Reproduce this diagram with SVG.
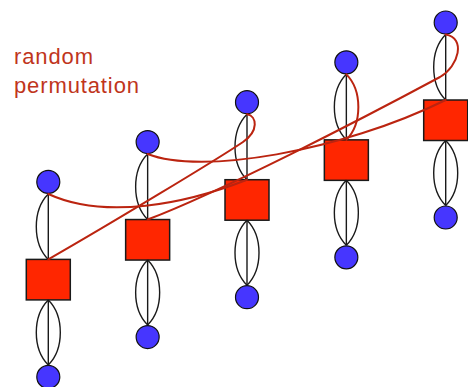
<svg xmlns="http://www.w3.org/2000/svg" width="468" height="387" viewBox="0 0 468 387">
  <style>
    .site { fill: #4636ff; stroke: #111; stroke-width: 1.2; }
    .box { fill: #ff2600; stroke: #1a1a1a; stroke-width: 1.5; }
    .bond { fill: none; stroke: #1a1a1a; stroke-width: 1.4; }
    .perm { fill: none; stroke: #bb2410; stroke-width: 2; stroke-linecap: round; }
    .label { font-family: "Liberation Sans", Arial, sans-serif; font-size: 22px; fill: #c0351c; }
  </style>
  <defs>
    <!-- local column frame: upper site at (0,0), box top at 77.5, lower site at 195 -->
    <path id="lensTopLeft" d="M0,12 C-16,28 -16,61.5 0,77.5"/>
    <path id="lensBotLeft" d="M0,118 C-16,134 -16,167 0,183"/>
    <path id="lensBotRight" d="M0,118 C16,134 16,167 0,183"/>
    <path id="stems" d="M0,12 V77.5 M0,118 V183"/>
  </defs>

  <text class="label" x="14" y="64" textLength="79" lengthAdjust="spacing">random</text>
  <text class="label" x="14" y="93" textLength="125" lengthAdjust="spacing">permutation</text>

  <!-- nodes -->
  <g id="col1" transform="translate(48.3,181.9)">
    <g id="top1"><circle class="site" cx="0" cy="0" r="11.5"/></g>
    <g id="box1"><rect class="box" x="-22" y="77.5" width="44" height="40.5"/></g>
    <g id="bot1"><circle class="site" cx="0" cy="195" r="11.5"/></g>
  </g>
  <g id="col2" transform="translate(147.65,142.05)">
    <g id="top2"><circle class="site" cx="0" cy="0" r="11.5"/></g>
    <g id="box2"><rect class="box" x="-22" y="77.5" width="44" height="40.5"/></g>
    <g id="bot2"><circle class="site" cx="0" cy="195" r="11.5"/></g>
  </g>
  <g id="col3" transform="translate(247,102.2)">
    <g id="top3"><circle class="site" cx="0" cy="0" r="11.5"/></g>
    <g id="box3"><rect class="box" x="-22" y="77.5" width="44" height="40.5"/></g>
    <g id="bot3"><circle class="site" cx="0" cy="195" r="11.5"/></g>
  </g>
  <g id="col4" transform="translate(346.35,62.35)">
    <g id="top4"><circle class="site" cx="0" cy="0" r="11.5"/></g>
    <g id="box4"><rect class="box" x="-22" y="77.5" width="44" height="40.5"/></g>
    <g id="bot4"><circle class="site" cx="0" cy="195" r="11.5"/></g>
  </g>
  <g id="col5" transform="translate(445.7,22.5)">
    <g id="top5"><circle class="site" cx="0" cy="0" r="11.5"/></g>
    <g id="box5"><rect class="box" x="-22" y="77.5" width="44" height="40.5"/></g>
    <g id="bot5"><circle class="site" cx="0" cy="195" r="11.5"/></g>
  </g>

  <g id="connectors">
    <!-- black bonds in each column -->
    <g class="bond">
      <g transform="translate(48.3,181.9)"><use href="#stems"/><use href="#lensTopLeft"/><use href="#lensBotLeft"/><use href="#lensBotRight"/></g>
      <g transform="translate(147.65,142.05)"><use href="#stems"/><use href="#lensTopLeft"/><use href="#lensBotLeft"/><use href="#lensBotRight"/></g>
      <g transform="translate(247,102.2)"><use href="#stems"/><use href="#lensTopLeft"/><use href="#lensBotLeft"/><use href="#lensBotRight"/></g>
      <g transform="translate(346.35,62.35)"><use href="#stems"/><use href="#lensTopLeft"/><use href="#lensBotLeft"/><use href="#lensBotRight"/></g>
      <g transform="translate(445.7,22.5)"><use href="#stems"/><use href="#lensTopLeft"/><use href="#lensBotLeft"/><use href="#lensBotRight"/></g>
    </g>
    <!-- permuted bonds -->
    <g class="perm">
      <path d="M48.3,194 C105,220 185,204 247,179.7"/>
      <path d="M147.65,154 C200,175 340,152 445.7,100"/>
      <path d="M247,114.2 C257,116 259,131 243,142 C215,160.7 110,224 48.3,259.4"/>
      <path d="M346.35,74.35 C362.35,90.35 362.35,123.85 346.35,139.85"/>
      <path d="M445.7,34.5 C466,38 459,66 440,77 C360,120 220,192 147.65,219.55"/>
    </g>
  </g>
</svg>
